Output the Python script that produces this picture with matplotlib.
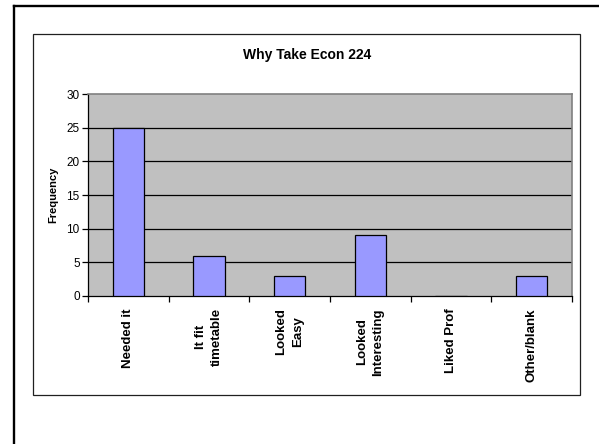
import matplotlib
matplotlib.use("Agg")
import matplotlib.pyplot as plt
from matplotlib.lines import Line2D
from matplotlib.patches import Rectangle

categories = ["Needed it", "It fit\ntimetable", "Looked\nEasy", "Looked\nInteresting", "Liked Prof", "Other/blank"]
frequency = [25, 6, 3, 9, 0, 3]
y_ticks = [0, 5, 10, 15, 20, 25, 30]

plt.rcParams["font.family"] = ["Liberation Sans", "DejaVu Sans"]

W, H = 599, 444
fig = plt.figure(figsize=(W / 100, H / 100), dpi=100)
fig.patch.set_facecolor("white")

def fx(px):
    return px / W

def fy(py):
    return 1 - py / H

# Outer page frame (left and top edges)
fig.add_artist(Line2D([fx(13.5), fx(13.5)], [fy(6), fy(446)], transform=fig.transFigure,
                      color="black", lw=1.7, solid_capstyle="projecting"))
fig.add_artist(Line2D([fx(13.5), fx(600)], [fy(6), fy(6)], transform=fig.transFigure,
                      color="black", lw=1.7, solid_capstyle="projecting"))

# Chart area box
fig.add_artist(Rectangle((fx(32.5), fy(395)), fx(580) - fx(32.5), fy(34.5) - fy(395),
                         transform=fig.transFigure, fill=False, edgecolor="#202020", lw=0.9))

ax = fig.add_axes([fx(88), fy(296), fx(572) - fx(88), fy(94) - fy(296)])
ax.set_facecolor("#C0C0C0")

x = list(range(len(categories)))
ax.bar(x, frequency, width=0.39, color="#9999FF", edgecolor="black", linewidth=0.9, zorder=3)

ax.set_xlim(-0.5, len(categories) - 0.5)
ax.set_ylim(0, 30)
ax.set_yticks(y_ticks)
ax.set_yticklabels([str(v) for v in y_ticks], fontsize=8.5)

for v in y_ticks[1:-1]:
    ax.axhline(v, color="black", lw=0.9, zorder=1)

ax.set_xticks([i - 0.5 for i in range(len(categories) + 1)], minor=False)
ax.set_xticklabels([])
ax.tick_params(axis="x", which="major", length=4, width=0.9, direction="out", color="black")
ax.tick_params(axis="y", length=4, width=0.9, direction="out", color="black", pad=2)

for i, lab in enumerate(categories):
    ax.text(i, -0.06, lab, transform=ax.get_xaxis_transform(), rotation=90,
            ha="center", va="top", multialignment="center",
            fontsize=9.5, fontweight="bold", linespacing=1.5)

for side in ("top", "right"):
    ax.spines[side].set_color("#808080")
    ax.spines[side].set_linewidth(1.2)
for side in ("left", "bottom"):
    ax.spines[side].set_color("black")
    ax.spines[side].set_linewidth(0.9)

ax.set_ylabel("Frequency", fontsize=8, fontweight="bold", labelpad=6)
fig.text(fx(307), fy(55), "Why Take Econ 224", ha="center", va="center",
         fontsize=10, fontweight="bold")

fig.savefig("out.png", dpi=100, facecolor="white")
